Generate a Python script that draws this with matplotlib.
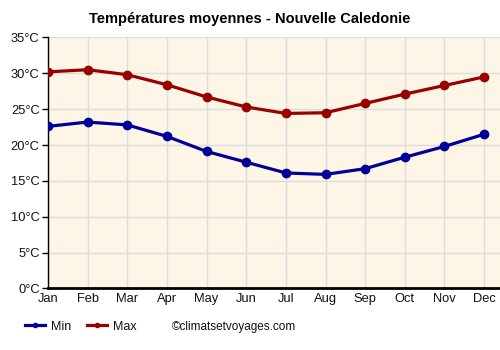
import matplotlib
matplotlib.use("Agg")
import matplotlib.pyplot as plt
from matplotlib.lines import Line2D

plt.rcParams["font.family"] = ["Liberation Sans", "DejaVu Sans"]

months = ["Jan", "Feb", "Mar", "Apr", "May", "Jun", "Jul", "Aug", "Sep", "Oct", "Nov", "Dec"]
t_min = [22.6, 23.2, 22.8, 21.2, 19.1, 17.6, 16.1, 15.9, 16.7, 18.3, 19.8, 21.5]
t_max = [30.2, 30.5, 29.8, 28.4, 26.7, 25.3, 24.4, 24.5, 25.8, 27.1, 28.3, 29.5]
y_ticks = [0, 5, 10, 15, 20, 25, 30, 35]
y_labels = [f"{v}°C" for v in y_ticks]

c_min = "#000099"
c_max = "#990000"

fig = plt.figure(figsize=(5, 3.5), dpi=100)
ax = fig.add_axes([0.096, 0.176, 0.904, 0.717])
ax.set_facecolor("#FDF5E6")

x = list(range(len(months)))
ax.plot(x, t_min, color=c_min, lw=2.3, marker="o", ms=6, zorder=3)
ax.plot(x, t_max, color=c_max, lw=2.3, marker="o", ms=6, zorder=3)

ax.set_xlim(0, 11.4)
ax.set_ylim(0, 35)
ax.set_xticks(x)
ax.set_xticklabels(months, fontsize=9.3, color="#111111")
ax.set_yticks(y_ticks)
ax.set_yticklabels(y_labels, fontsize=9.3, color="#111111")
ax.grid(True, color="#DDDDDD", lw=1)
ax.set_axisbelow(True)
for s in ["top", "right"]:
    ax.spines[s].set_visible(False)
ax.spines["left"].set_color("black")
ax.spines["left"].set_linewidth(1)
ax.spines["bottom"].set_color("black")
ax.spines["bottom"].set_linewidth(2)
ax.tick_params(axis="x", length=0, pad=3)
ax.tick_params(axis="y", length=4, width=1, pad=2)

fig.text(0.5, 0.945, "Températures moyennes - Nouvelle Caledonie",
         ha="center", va="center", fontsize=10.5, fontweight="bold")

handles = [Line2D([0], [0], color=c_min, lw=2.3, marker="o", ms=3),
           Line2D([0], [0], color=c_max, lw=2.3, marker="o", ms=3)]
leg = fig.legend(handles, ["Min", "Max"], loc="center left", bbox_to_anchor=(0.05, 0.067),
                 ncol=2, frameon=False, fontsize=9, handlelength=1.6, columnspacing=1.2,
                 handletextpad=0.5, borderaxespad=0, borderpad=0)
for t in leg.get_texts():
    t.set_color("#111111")
fig.text(0.343, 0.067, "©climatsetvoyages.com", ha="left", va="center", fontsize=8.5, color="#111111")

fig.savefig("out.png", dpi=100)
